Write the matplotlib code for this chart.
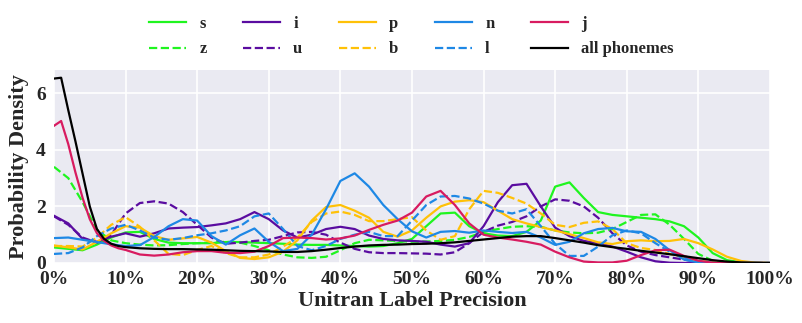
import numpy as np
import matplotlib
matplotlib.use('Agg')
import matplotlib.pyplot as plt
from matplotlib.ticker import FuncFormatter

# precision grid (percent)
x_pct = list(range(0, 101, 2))
# finer start for the steep curves
x_steep = list(range(0, 10)) + list(range(10, 101, 2))

s_vals = [0.55, 0.5, 0.45, 0.65, 0.9, 1.08, 1.1, 0.85, 0.72, 0.7, 0.7, 0.7, 0.74, 0.74, 0.72, 0.7,
          0.68, 0.65, 0.64, 0.64, 0.62, 0.6, 0.58, 0.6, 0.7, 0.85, 1.3, 1.75, 1.78, 1.3, 1.05, 0.97,
          0.95, 1.1, 1.5, 2.7, 2.85, 2.3, 1.8, 1.7, 1.65, 1.6, 1.55, 1.47, 1.3, 0.9, 0.35, 0.1,
          0.02, 0.0, 0.0]
z_vals = [3.4, 3.0, 2.15, 1.17, 0.8, 0.7, 0.65, 0.62, 0.63, 0.67, 0.7, 0.72, 0.75, 0.72, 0.6, 0.45,
          0.3, 0.2, 0.18, 0.22, 0.45, 0.7, 0.82, 0.8, 0.78, 0.75, 0.76, 0.78, 0.82, 0.92, 1.1, 1.2,
          1.28, 1.3, 1.28, 1.15, 1.08, 1.05, 1.07, 1.2, 1.45, 1.7, 1.72, 1.35, 0.85, 0.32, 0.08, 0.02,
          0.0, 0.0, 0.0]
i_vals = [1.67, 1.4, 0.85, 0.75, 0.93, 1.05, 0.93, 1.05, 1.22, 1.25, 1.27, 1.33, 1.4, 1.55, 1.8, 1.55,
          1.15, 0.9, 1.0, 1.2, 1.28, 1.2, 0.97, 0.85, 0.8, 0.78, 0.75, 0.65, 0.58, 0.7, 1.3, 2.15,
          2.75, 2.8, 2.0, 1.25, 0.95, 0.78, 0.7, 0.58, 0.4, 0.2, 0.06, 0.01, 0.0, 0.0, 0.0, 0.0,
          0.0, 0.0, 0.0]
u_vals = [1.65, 1.35, 0.9, 0.72, 1.0, 1.75, 2.12, 2.18, 2.1, 1.8, 1.35, 0.9, 0.68, 0.72, 0.78, 0.82,
          0.95, 1.08, 1.1, 1.0, 0.72, 0.5, 0.38, 0.35, 0.35, 0.34, 0.33, 0.3, 0.38, 0.7, 1.1, 1.32,
          1.45, 1.65, 2.0, 2.25, 2.2, 2.0, 1.6, 1.05, 0.62, 0.4, 0.28, 0.2, 0.12, 0.03, 0.0, 0.0,
          0.0, 0.0, 0.0]
p_vals = [0.62, 0.55, 0.48, 0.75, 1.05, 1.3, 1.25, 0.95, 0.82, 0.87, 0.92, 0.72, 0.42, 0.18, 0.14, 0.2,
          0.4, 0.8, 1.5, 1.98, 2.05, 1.85, 1.6, 1.1, 0.93, 1.15, 1.6, 2.0, 2.17, 2.22, 2.15, 1.85,
          1.55, 1.4, 1.27, 1.15, 1.02, 0.88, 0.73, 0.67, 0.77, 0.8, 0.77, 0.78, 0.85, 0.7, 0.48, 0.22,
          0.07, 0.01, 0.0]
b_vals = [0.6, 0.6, 0.58, 0.9, 1.35, 1.62, 1.28, 0.8, 0.32, 0.28, 0.46, 0.6, 0.35, 0.2, 0.2, 0.3,
          0.58, 0.9, 1.45, 1.75, 1.82, 1.7, 1.48, 1.48, 1.55, 1.62, 1.15, 0.82, 0.95, 1.9, 2.55, 2.48,
          2.3, 2.1, 1.75, 1.35, 1.27, 1.42, 1.47, 1.2, 0.7, 0.53, 0.46, 0.32, 0.2, 0.08, 0.02, 0.0,
          0.0, 0.0, 0.0]
n_vals = [0.88, 0.9, 0.82, 0.74, 0.66, 0.6, 0.63, 0.92, 1.3, 1.55, 1.5, 0.95, 0.65, 0.98, 1.22, 0.75,
          0.42, 0.5, 1.0, 1.9, 2.9, 3.17, 2.7, 2.05, 1.55, 1.12, 0.9, 1.1, 1.13, 1.07, 1.15, 1.1,
          1.06, 1.1, 0.9, 0.64, 0.75, 1.05, 1.2, 1.24, 1.12, 1.1, 0.85, 0.45, 0.12, 0.02, 0.0, 0.0,
          0.0, 0.0, 0.0]
l_vals = [0.32, 0.35, 0.55, 0.95, 1.22, 1.35, 1.15, 0.9, 0.82, 0.88, 0.98, 1.05, 1.15, 1.3, 1.65, 1.75,
          1.2, 0.6, 0.45, 0.6, 0.85, 1.0, 1.1, 0.95, 0.95, 1.5, 2.05, 2.35, 2.37, 2.28, 2.1, 1.85,
          1.75, 1.9, 1.3, 0.68, 0.25, 0.25, 0.58, 0.98, 1.15, 1.05, 0.7, 0.4, 0.2, 0.05, 0.0, 0.0,
          0.0, 0.0, 0.0]
j_vals = [4.85, 5.02, 4.2, 3.2, 2.3, 1.55, 1.05, 0.78, 0.62, 0.52,
          0.46, 0.3, 0.26, 0.3, 0.38, 0.42, 0.42, 0.36, 0.35, 0.4, 0.6, 0.88, 0.9, 0.88, 0.83, 0.87,
          0.97, 1.17, 1.35, 1.5, 1.78, 2.35, 2.55, 2.05, 1.4, 1.0, 0.9, 0.83, 0.75, 0.65, 0.4, 0.2,
          0.05, 0.02, 0.02, 0.08, 0.28, 0.45, 0.47, 0.25, 0.08, 0.01, 0.0, 0.0, 0.0, 0.0]
all_vals = [6.52, 6.55, 5.4, 4.3, 3.15, 2.0, 1.2, 0.85, 0.68, 0.6,
            0.56, 0.52, 0.5, 0.49, 0.49, 0.48, 0.47, 0.45, 0.43, 0.42, 0.41, 0.39, 0.39, 0.42, 0.47,
            0.53, 0.58, 0.62, 0.64, 0.65, 0.67, 0.68, 0.7, 0.73, 0.78, 0.83, 0.88, 0.93, 0.95, 0.95,
            0.88, 0.8, 0.72, 0.63, 0.56, 0.5, 0.43, 0.37, 0.31, 0.24, 0.17, 0.1, 0.05, 0.02, 0.01, 0.0]

GREEN, PURPLE, AMBER, BLUE, PINK = '#1ff51f', '#5a0ca0', '#ffc107', '#1e88e5', '#d81b60'

# (label, x, y, colour, linestyle) in legend order
series = [
    ('s', x_pct, s_vals, GREEN, '-'),
    ('z', x_pct, z_vals, GREEN, '--'),
    ('i', x_pct, i_vals, PURPLE, '-'),
    ('u', x_pct, u_vals, PURPLE, '--'),
    ('p', x_pct, p_vals, AMBER, '-'),
    ('b', x_pct, b_vals, AMBER, '--'),
    ('n', x_pct, n_vals, BLUE, '-'),
    ('l', x_pct, l_vals, BLUE, '--'),
    ('j', x_steep, j_vals, PINK, '-'),
    ('all phonemes', x_steep, all_vals, 'black', '-'),
]

plt.rcParams['font.family'] = ['Liberation Serif', 'DejaVu Serif']
plt.rcParams['font.weight'] = 'bold'

fig = plt.figure(figsize=(8.02, 3.23), dpi=100)
ax = fig.add_axes([0.0673, 0.1858, 0.8927, 0.5972])
ax.set_facecolor('#eaeaf2')
for sp_ in ax.spines.values():
    sp_.set_visible(False)
ax.grid(True, color='white', linewidth=1.2)
ax.set_axisbelow(True)

handles = []
for name, xs, ys, col, ls in series:
    h, = ax.plot(xs, ys, color=col, linestyle=ls, linewidth=1.6, label=name)
    handles.append(h)
# draw black on top
handles[-1].set_zorder(3)

ax.set_xlim(0, 100)
ax.set_ylim(0, 6.82)
ax.set_xticks(range(0, 101, 10))
ax.set_yticks([0, 2, 4, 6])
ax.xaxis.set_major_formatter(FuncFormatter(lambda v, _: f'{int(v)}%'))
ax.tick_params(axis='both', length=0, labelsize=14, pad=6)
for lab in ax.get_xticklabels() + ax.get_yticklabels():
    lab.set_fontweight('bold')
    lab.set_color('#262626')
ax.set_xlabel('Unitran Label Precision', fontsize=16, fontweight='bold', color='#262626', labelpad=2)
ax.set_ylabel('Probability Density', fontsize=16, fontweight='bold', color='#262626', labelpad=5)

leg = fig.legend(handles=handles, loc='center', bbox_to_anchor=(0.513, 0.886), ncol=5,
                 frameon=False, fontsize=12, handlelength=2.2, handletextpad=0.8,
                 columnspacing=2.2, labelspacing=0.55)
for t in leg.get_texts():
    t.set_fontweight('bold')
    t.set_color('#262626')

fig.savefig('out.png', dpi=100)
